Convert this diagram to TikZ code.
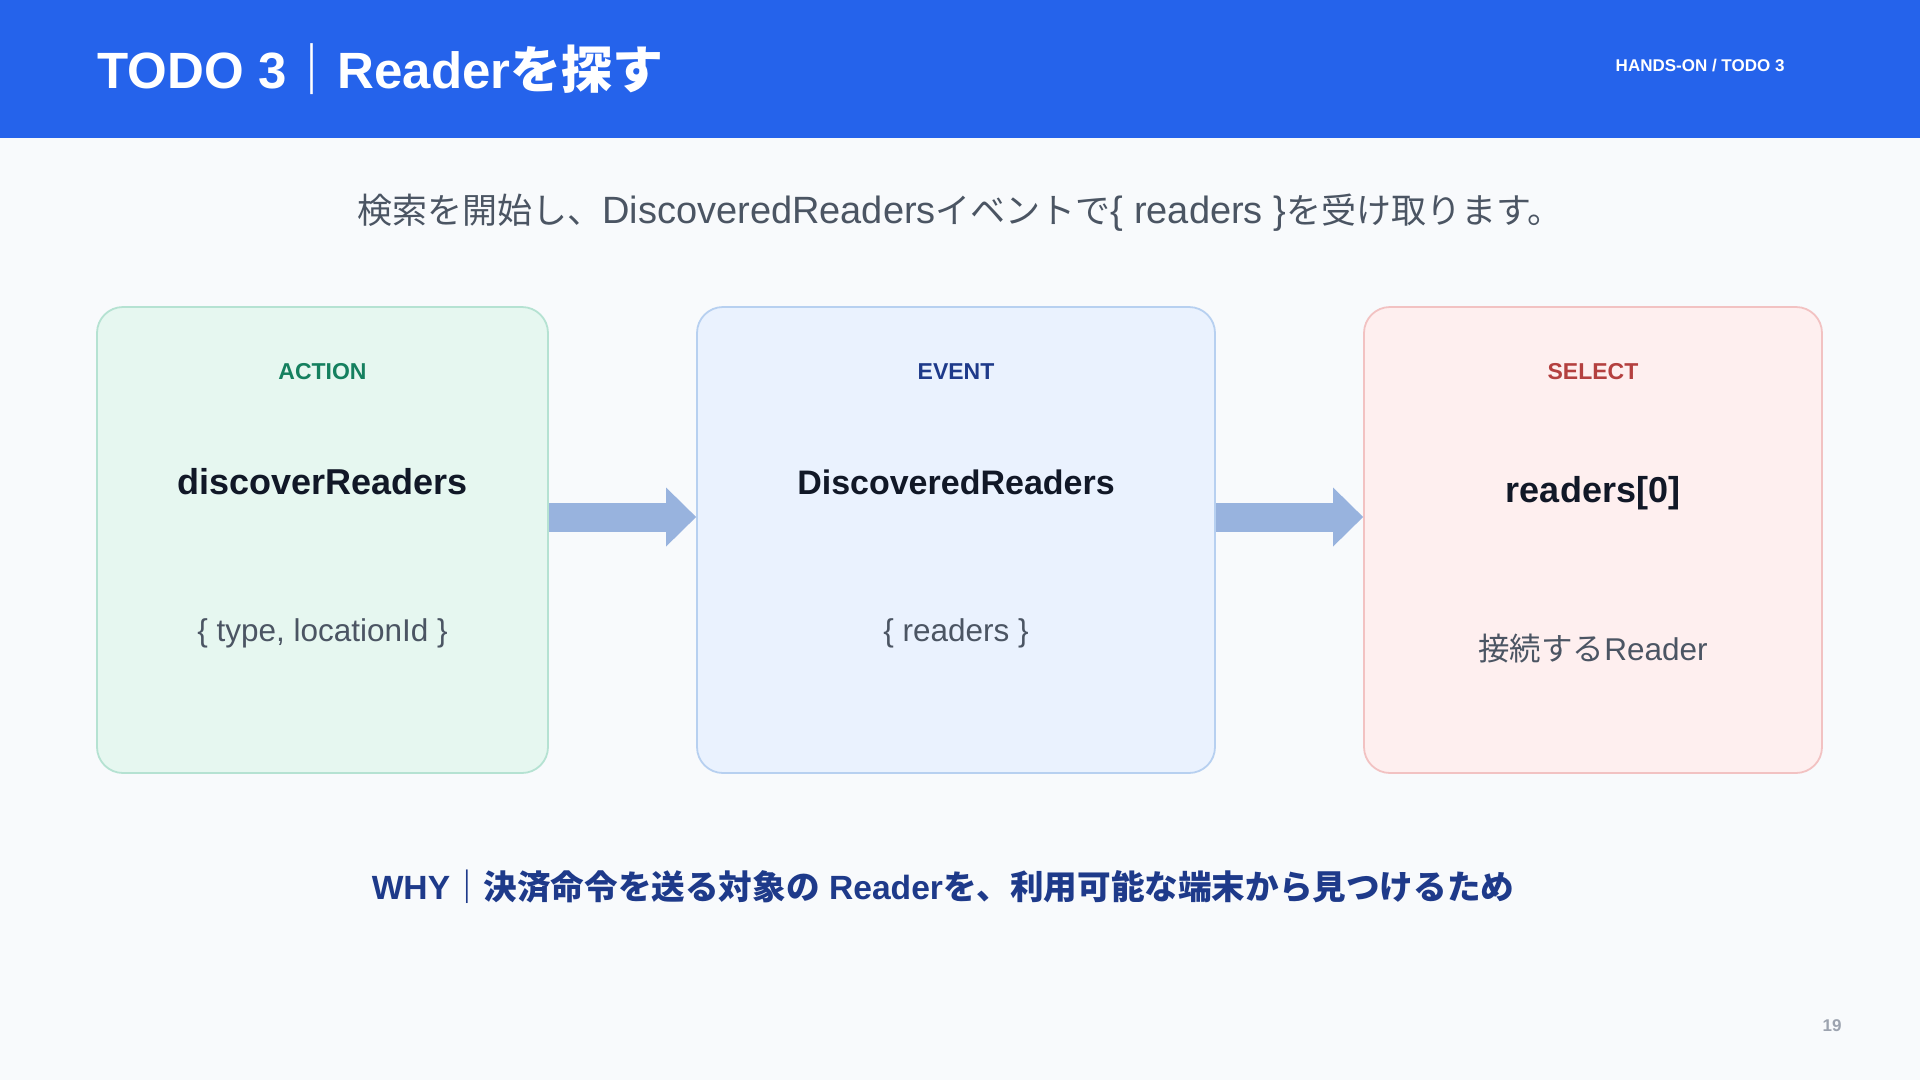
\documentclass[tikz,border=0pt]{standalone}
\usepackage{fontspec}
\setmainfont{Liberation Sans}
\newfontfamily\jp{Noto Sans CJK JP}
\usetikzlibrary{arrows.meta}
\definecolor{pagebg}{HTML}{F8FAFC}
\definecolor{hdr}{HTML}{2563EB}
\definecolor{subc}{HTML}{4B5563}
\definecolor{ink}{HTML}{111827}
\definecolor{navy}{HTML}{1E3A8A}
\definecolor{actc}{HTML}{15805F}
\definecolor{selc}{HTML}{B4403F}
\definecolor{arrowc}{HTML}{98B3DE}
\definecolor{gfill}{HTML}{E6F7F0}
\definecolor{gline}{HTML}{B5E2D2}
\definecolor{bfill}{HTML}{EAF2FE}
\definecolor{bline}{HTML}{B7D0F0}
\definecolor{rfill}{HTML}{FEEFEF}
\definecolor{rline}{HTML}{F2C2C2}
\definecolor{pnum}{HTML}{9CA3AF}
\newcommand{\jpsub}[1]{{\jp\fontsize{35}{40}\selectfont #1}}
\begin{document}
\begin{tikzpicture}[x=1pt,y=-1pt,
  stagebox/.style={rounded corners=26pt, line width=1.8pt, minimum height=466pt, inner sep=0pt},
  tagtext/.style={font=\bfseries\fontsize{23}{28}\selectfont, anchor=base},
  maintext/.style={font=\bfseries\fontsize{36}{42}\selectfont, text=ink, anchor=base},
  subtext/.style={font=\fontsize{31.5}{36}\selectfont, text=subc, anchor=base},
  flow/.style={draw=arrowc, line width=29pt, -{Triangle[length=30pt,width=59pt,line width=0pt]}}
]
\useasboundingbox (0,0) rectangle (1920,1080);
\fill[pagebg] (0,0) rectangle (1920,1080);
\node[fill=hdr, minimum width=1920pt, minimum height=138pt, inner sep=0pt, anchor=north west] (header) at (0,0) {};
\node[anchor=base west, text=white, font=\bfseries\fontsize{51}{58}\selectfont] (title) at (94,88) {TODO 3{\jp ｜}Reader{\jp を探す}};
\node[anchor=base east, text=white, font=\bfseries\fontsize{17}{20}\selectfont] (tag) at (1788,71) {HANDS-ON / TODO 3};

\node[anchor=base, text=subc, font=\fontsize{38}{42}\selectfont] (subtitle) at (960,223) {\jpsub{検索を開始し、}DiscoveredReaders\jpsub{イベントで}\{ readers \}\jpsub{を受け取ります。}};

\node[stagebox, draw=gline, fill=gfill, minimum width=451pt] (b1) at (322.5,540) {};
\node[stagebox, draw=bline, fill=bfill, minimum width=518pt] (b2) at (956,540) {};
\node[stagebox, draw=rline, fill=rfill, minimum width=458pt] (b3) at (1593,540) {};

\node[tagtext, text=actc] (t1) at (322.5,379) {ACTION};
\node[maintext] (m1) at (322.5,494) {discoverReaders};
\node[subtext] (s1) at (322.5,641) {\{ type, locationId \}};

\node[tagtext, text=navy] (t2) at (956,379) {EVENT};
\node[maintext, font=\bfseries\fontsize{34}{40}\selectfont] (m2) at (956,494) {DiscoveredReaders};
\node[subtext] (s2) at (956,641) {\{ readers \}};

\node[tagtext, text=selc] (t3) at (1593,379) {SELECT};
\node[maintext] (m3) at (1593,502) {readers[0]};
\node[subtext] (s3) at (1593,660) {{\jp 接続する}Reader};

\draw[flow] ([yshift=23pt]b1.east) -- ([yshift=23pt]b2.west);
\draw[flow] ([yshift=23pt]b2.east) -- ([yshift=23pt]b3.west);

\node[anchor=base, text=navy, font=\bfseries\fontsize{33.6}{40}\selectfont] (why) at (943,899) {WHY{\jp ｜決済命令を送る対象の} Reader{\jp を、利用可能な端末から見つけるため}};

\node[anchor=base east, text=pnum, font=\bfseries\fontsize{17}{20}\selectfont] (page) at (1845,1031) {19};
\end{tikzpicture}
\end{document}
